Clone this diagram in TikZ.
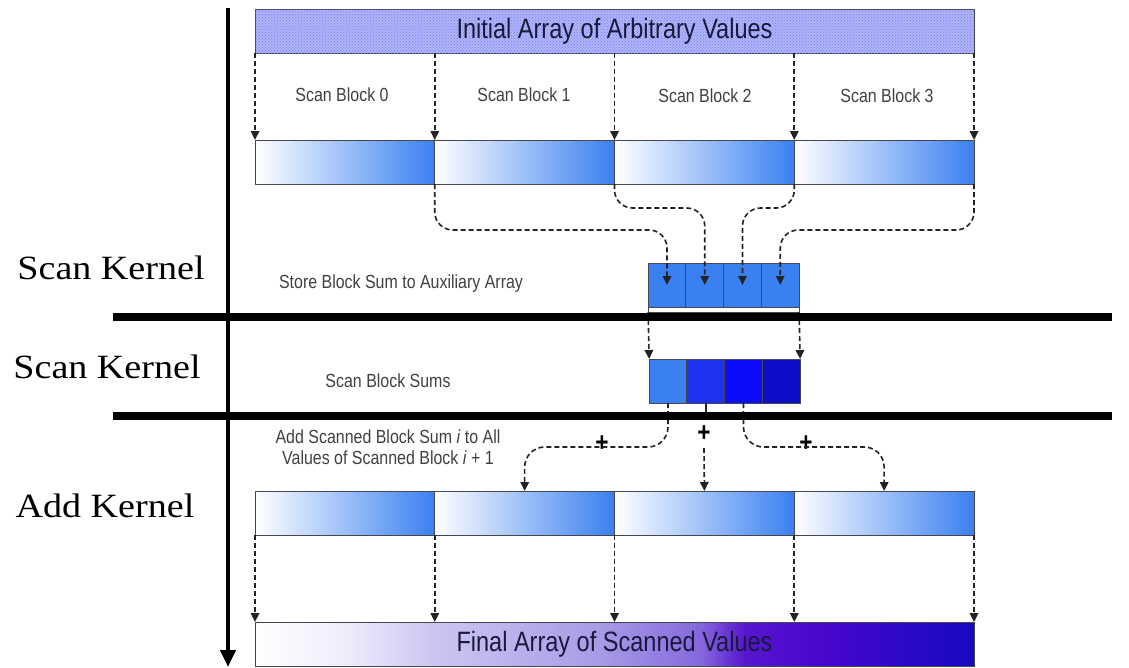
\documentclass[tikz,border=0pt]{standalone}
\usepackage{fontspec}
\newfontfamily\narrowsf{Liberation Sans}[FakeStretch=0.84]
\newfontfamily\kernelfont{Liberation Serif}[FakeStretch=1.12]
\usepackage{tikz}
\usetikzlibrary{arrows.meta, positioning, patterns}
\usepackage{xcolor}

\definecolor{arrayfill}{RGB}{174,180,246}
\definecolor{blockblue}{RGB}{58,128,240}
\definecolor{sumblue1}{RGB}{30,50,240}
\definecolor{sumblue2}{RGB}{12,12,250}
\definecolor{sumblue3}{RGB}{14,14,200}
\definecolor{boxline}{RGB}{70,70,80}
\definecolor{navytext}{RGB}{25,25,60}
\definecolor{dashgray}{RGB}{35,35,35}
\definecolor{fadeA}{RGB}{240,238,252}
\definecolor{fadeB}{RGB}{205,200,242}
\definecolor{fadeC}{RGB}{168,154,230}
\definecolor{fadeD}{RGB}{132,104,220}
\definecolor{fadeE}{RGB}{88,22,206}
\definecolor{fadeF}{RGB}{70,6,205}
\definecolor{fadeG}{RGB}{22,10,195}
\pgfdeclarehorizontalshading{finalshade}{100bp}{color(0bp)=(white); color(25bp)=(white);
  color(31bp)=(fadeA); color(37bp)=(fadeB); color(49bp)=(fadeC); color(56bp)=(fadeD);
  color(59bp)=(fadeE); color(65bp)=(fadeF); color(75bp)=(fadeG); color(100bp)=(fadeG)}

\begin{document}
\begin{tikzpicture}[x=1pt, y=-1pt, >={Triangle[width=8.5pt,length=9pt]}]
    \tikzstyle{block} = [draw=boxline, line width=0.8pt, minimum width=179.75, minimum height=44, inner sep=0pt, outer sep=0pt, left color=white, right color=blockblue]
    \tikzstyle{wide} = [draw=boxline, line width=0.8pt, minimum width=719, minimum height=44, inner sep=0pt, outer sep=0pt, text=navytext, font=\narrowsf\fontsize{28}{30}\selectfont]
    \tikzstyle{cell} = [draw=boxline, line width=0.8pt, minimum width=37.75, minimum height=44, inner sep=0pt, outer sep=0pt, fill=blockblue]
    \tikzstyle{smalltext} = [text=black!75, inner sep=0pt, font=\narrowsf\fontsize{19}{21}\selectfont]
    \tikzstyle{kernel} = [inner sep=0pt, font=\kernelfont\fontsize{34}{36}\selectfont]
    \tikzstyle{plus} = [inner sep=0pt, font=\narrowsf\bfseries\fontsize{27}{27}\selectfont]
    \tikzstyle{flow} = [->, dashgray, line width=1.6pt, dash pattern=on 5pt off 3pt]
    \tikzstyle{divider} = [line width=8pt]
    \useasboundingbox (0,0) rectangle (1129,667);

    % time axis and kernel borders
    \draw [line width=4.5pt, -{Triangle[width=15pt,length=17pt]}] (228,8) -- (228,667);
    \node [kernel] at (111,268) (scankern) {Scan Kernel};
    \node [kernel] at (107,367) (sumkern) {Scan Kernel};
    \node [kernel] at (105,506) (addkern) {Add Kernel};

    % input array and first pass
    \node [wide, fill=arrayfill, postaction={pattern=crosshatch dots, pattern color=arrayfill!70!blue}] at (614.5,31) (initial) {Initial Array of Arbitrary Values};
    \node [block] at (344.9,162) (scan0) {};
    \node [block, right=0pt of scan0] (scan1) {};
    \node [block, right=0pt of scan1] (scan2) {};
    \node [block, right=0pt of scan2] (scan3) {};
    \node [smalltext] at (342,95) (name0) {Scan Block 0};
    \node [smalltext] at (524,95) (name1) {Scan Block 1};
    \node [smalltext] at (705,96) (name2) {Scan Block 2};
    \node [smalltext] at (887,96) (name3) {Scan Block 3};
    \foreach \b in {0,...,3}
        \draw [flow] (scan\b.north west |- initial.south) -- (scan\b.north west);
    \draw [flow] (scan3.north east |- initial.south) -- (scan3.north east);

    % auxiliary array of block sums
    \node [cell] at (667,285) (aux0) {};
    \node [cell, right=0pt of aux0] (aux1) {};
    \node [cell, right=0pt of aux1] (aux2) {};
    \node [cell, right=0pt of aux2] (aux3) {};
    \node [draw=boxline, fill=white, line width=0.8pt, minimum width=151, minimum height=5, inner sep=0pt, outer sep=0pt, anchor=north west] at (aux0.south west) (auxfoot) {};
    \node [smalltext] at (401,284) (storetxt) {Store Block Sum to Auxiliary Array};
    \draw [flow, rounded corners=18] (scan0.south east) -- ++(0,46) -| (aux0.center);
    \draw [flow, rounded corners=18] (scan1.south east) -- ++(0,24) -| (aux1.center);
    \draw [flow, rounded corners=18] (scan2.south east) -- ++(0,24) -| (aux2.center);
    \draw [flow, rounded corners=18] (scan3.south east) -- ++(0,46) -| (aux3.center);

    % scanned block sums
    \node [cell] at (668,381) (sum0) {};
    \node [cell, fill=sumblue1, right=0pt of sum0] (sum1) {};
    \node [cell, fill=sumblue2, right=0pt of sum1] (sum2) {};
    \node [cell, fill=sumblue3, right=0pt of sum2] (sum3) {};
    \node [smalltext] at (388,381) (sumtxt) {Scan Block Sums};
    \draw [flow] (auxfoot.south west) -- (sum0.north west);
    \draw [flow] (auxfoot.south east) -- (sum3.north east);

    % uniform add
    \node [block] at (344.9,513) (add0) {};
    \node [block, right=0pt of add0] (add1) {};
    \node [block, right=0pt of add1] (add2) {};
    \node [block, right=0pt of add2] (add3) {};
    \node [smalltext, align=center] at (388,447) (addtxt) {Add Scanned Block Sum \textit{i} to All\\Values of Scanned Block \textit{i} + 1};
    \node [plus] at (602,444) (plus1) {+};
    \node [plus] at (704,434) (plus2) {+};
    \node [plus] at (806,444) (plus3) {+};
    \draw [flow, rounded corners=20] (sum0.south) -- ++(0,44) -| (add1.north);
    \draw [dashgray, line width=1.6pt] (sum1.south) -- ++(0,12);
    \draw [flow] (plus2.south) ++(0,6) -- (add2.north);
    \draw [flow, rounded corners=20] (sum2.south) -- ++(0,44) -| (add3.north);

    % output array
    \node [wide, shading=finalshade] at (614.5,644) (final) {Final Array of Scanned Values};
    \foreach \b in {0,...,3}
        \draw [flow] (add\b.south west) -- (add\b.south west |- final.north);
    \draw [flow] (add3.south east) -- (add3.south east |- final.north);

    % kernel boundaries
    \draw [divider] (113,317) -- (1112,317);
    \draw [divider] (113,416) -- (1112,416);
\end{tikzpicture}
\end{document}
